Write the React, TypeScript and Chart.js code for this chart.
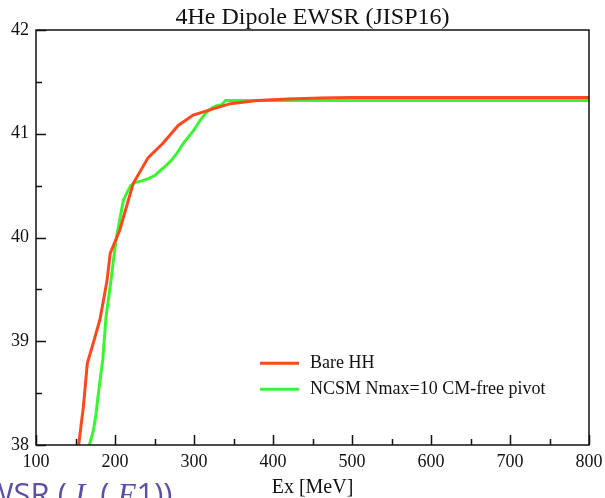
import React, { useEffect, useRef } from 'react';
import { Chart, registerables } from 'chart.js';

Chart.register(...registerables);

// ---- text ----
const chartTitle = '4He Dipole EWSR (JISP16)';
const xAxisTitle = 'Ex [MeV]';

// ---- axes ----
const xMin = 100;
const xMax = 800;
const yMin = 38;
const yMax = 42;
const xMajorTicks = [100, 200, 300, 400, 500, 600, 700, 800];
const xMinorTicks = [150, 250, 350, 450, 550, 650, 750];
const yMajorTicks = [38, 39, 40, 41, 42];
const yMinorTicks = [38.5, 39.5, 40.5, 41.5];

// ---- series: Bare HH ----
const bareLabel = 'Bare HH';
const bareEx = [151, 154, 160, 165, 172, 181, 190, 194, 206, 223, 242, 261, 280, 299, 320, 346, 380, 420, 460, 500, 600, 700, 800];
const bareSum = [37.8, 38.0, 38.37, 38.79, 38.97, 39.21, 39.59, 39.85, 40.07, 40.52, 40.77, 40.91, 41.08, 41.18, 41.23, 41.29, 41.32, 41.335, 41.345, 41.35, 41.35, 41.35, 41.35];

// ---- series: NCSM ----
const ncsmLabel = 'NCSM Nmax=10 CM-free pivot';
const ncsmEx = [165, 167.6, 172.7, 176, 179, 184.5, 188.7, 192, 195, 198, 201.4, 204.3, 210.6, 215.7, 220, 225.5, 236, 243, 250.8, 258, 265.6, 272, 278.3, 286.7, 293, 299.4, 307.9, 315, 322.7, 329, 335, 340, 400, 500, 600, 700, 800];
const ncsmSum = [37.85, 38.0, 38.14, 38.3, 38.5, 38.82, 39.24, 39.42, 39.59, 39.78, 39.98, 40.1, 40.36, 40.44, 40.5, 40.53, 40.55, 40.57, 40.6, 40.65, 40.7, 40.75, 40.81, 40.91, 40.97, 41.03, 41.13, 41.2, 41.25, 41.27, 41.28, 41.32, 41.32, 41.32, 41.32, 41.32, 41.32];

const redColor = 'rgb(255, 72, 30)';
const greenColor = 'rgb(58, 245, 50)';
const serif = '"Liberation Serif", "Times New Roman", serif';

const framePlugin = {
  id: 'frameAndTicks',
  afterDraw(chart: any) {
    const { ctx, chartArea, scales } = chart;
    const { left, right, top, bottom } = chartArea;
    const xs = scales.x;
    const ys = scales.y;
    ctx.save();
    ctx.strokeStyle = '#111';
    ctx.lineWidth = 1.5;
    ctx.strokeRect(left, top, right - left, bottom - top);
    ctx.beginPath();
    const drawX = (v: number, len: number) => {
      const p = Math.round(xs.getPixelForValue(v)) + 0.5;
      ctx.moveTo(p, bottom);
      ctx.lineTo(p, bottom - len);
    };
    const drawY = (v: number, len: number) => {
      const p = Math.round(ys.getPixelForValue(v)) + 0.5;
      ctx.moveTo(left, p);
      ctx.lineTo(left + len, p);
    };
    xMajorTicks.forEach((v) => drawX(v, 10));
    xMinorTicks.forEach((v) => drawX(v, 6));
    yMajorTicks.forEach((v) => drawY(v, 10));
    yMinorTicks.forEach((v) => drawY(v, 6));
    ctx.stroke();

    // title
    ctx.fillStyle = '#111';
    ctx.font = `24px ${serif}`;
    ctx.textAlign = 'center';
    ctx.textBaseline = 'alphabetic';
    ctx.fillText(chartTitle, (left + right) / 2, 24);

    // legend inside the plot
    const items = chart.data.datasets.map((d: any) => ({ label: d.label, color: d.borderColor }));
    const lx0 = left + (right - left) * 0.405;
    const lx1 = lx0 + 39;
    let ly = top + (bottom - top) * 0.803;
    ctx.font = `18px ${serif}`;
    ctx.textAlign = 'left';
    ctx.textBaseline = 'middle';
    items.forEach((it: any) => {
      ctx.strokeStyle = it.color;
      ctx.lineWidth = 3;
      ctx.beginPath();
      ctx.moveTo(lx0, ly);
      ctx.lineTo(lx1, ly);
      ctx.stroke();
      ctx.fillStyle = '#111';
      ctx.fillText(it.label, lx1 + 11, ly);
      ly += 26;
    });
    ctx.restore();
  },
};

function ChartView() {
  const ref = useRef<HTMLCanvasElement | null>(null);
  useEffect(() => {
    if (!ref.current) return;
    const chart = new Chart(ref.current, {
      type: 'line',
      data: {
        datasets: [
          {
            label: bareLabel,
            data: bareEx.map((x, i) => ({ x, y: bareSum[i] })),
            borderColor: redColor,
            backgroundColor: redColor,
            borderWidth: 3,
            pointRadius: 0,
            tension: 0,
            clip: 0,
          },
          {
            label: ncsmLabel,
            data: ncsmEx.map((x, i) => ({ x, y: ncsmSum[i] })),
            borderColor: greenColor,
            backgroundColor: greenColor,
            borderWidth: 3,
            pointRadius: 0,
            tension: 0,
            clip: 0,
          },
        ],
      },
      options: {
        responsive: false,
        animation: false,
        events: [],
        layout: { padding: { top: 30, right: 16, left: 0, bottom: 0 } },
        plugins: {
          legend: { display: false },
          title: { display: false },
          tooltip: { enabled: false },
        },
        scales: {
          x: {
            type: 'linear',
            min: xMin,
            max: xMax,
            grid: { display: false, drawTicks: false },
            border: { display: false },
            ticks: {
              stepSize: 100,
              color: '#111',
              font: { family: serif, size: 18 },
              padding: 6,
              maxRotation: 0,
            },
            title: {
              display: true,
              text: xAxisTitle,
              color: '#111',
              font: { family: serif, size: 20 },
              padding: { top: 0, bottom: -2 },
            },
            afterFit: (s: any) => {
              s.height = 53;
              s.paddingLeft = 0;
              s.paddingRight = 0;
            },
          },
          y: {
            type: 'linear',
            min: yMin,
            max: yMax,
            grid: { display: false, drawTicks: false },
            border: { display: false },
            ticks: {
              stepSize: 1,
              color: '#111',
              font: { family: serif, size: 18 },
              padding: 7,
            },
            afterFit: (s: any) => {
              s.width = 36;
              s.paddingTop = 0;
              s.paddingBottom = 0;
            },
          },
        },
      },
      plugins: [framePlugin],
    });
    return () => chart.destroy();
  }, []);
  return <canvas ref={ref} width={605} height={498} style={{ width: 605, height: 498, display: 'block' }} />;
}

export default function App() {
  return (
    <div style={{ position: 'fixed', left: 0, top: 0, width: 605, height: 498, overflow: 'hidden', background: '#fff' }}>
      <ChartView />
      <div
        style={{
          position: 'absolute',
          left: -15,
          top: 475,
          fontFamily: '"Open Sans", sans-serif',
          fontSize: 31,
          color: '#5e4ea4',
          whiteSpace: 'nowrap',
          lineHeight: '36px',
        }}
      >
        WSR ( <i style={{ fontFamily: serif }}>L</i> ( <i style={{ fontFamily: serif }}>E</i>1))
      </div>
    </div>
  );
}
